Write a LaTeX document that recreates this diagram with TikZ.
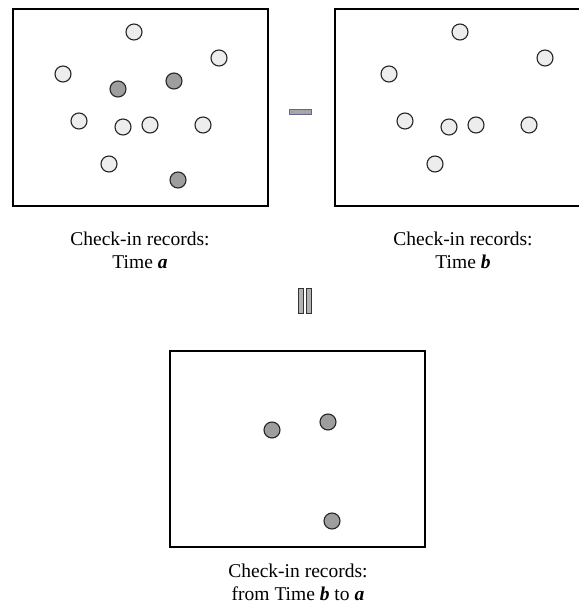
\documentclass[tikz,border=0pt]{standalone}
\usepackage{fontspec}
\setmainfont{Liberation Serif}
\begin{document}
\begin{tikzpicture}[x=1pt,y=-1pt,
  frame/.style={draw=black,line width=1.1pt,fill=white},
  rec/.style={circle,draw=black!85,line width=1.1pt,fill=black!7,minimum size=16pt,inner sep=0pt},
  hit/.style={rec,fill=black!38},
  caption/.style={align=center,font=\fontsize{19.5}{23}\selectfont},
  minus/.style={draw=blue!30!black!60,fill=black!35,line width=1pt},
  equalbar/.style={draw=black!80,fill=black!30,line width=1pt}]
\useasboundingbox (0,0) rectangle (578,604);
% panel frames
\draw[frame] (13,9) rectangle (268,206);
\draw[frame] (335,9) rectangle (592,206);
\draw[frame] (170,351) rectangle (425,547);
% time a
\node[rec] (a1) at (134,32) {};
\node[rec] (a2) at (219,58) {};
\node[rec] (a3) at (63,74) {};
\node[hit] (a4) at (118,89) {};
\node[hit] (a5) at (174,81) {};
\node[rec] (a6) at (79,121) {};
\node[rec] (a7) at (123,127) {};
\node[rec] (a8) at (150,125) {};
\node[rec] (a9) at (203,125) {};
\node[rec] (a10) at (109,164) {};
\node[hit] (a11) at (178,180) {};
% time b
\node[rec] (b1) at (460,32) {};
\node[rec] (b2) at (545,58) {};
\node[rec] (b3) at (389,74) {};
\node[rec] (b4) at (405,121) {};
\node[rec] (b5) at (449,127) {};
\node[rec] (b6) at (476,125) {};
\node[rec] (b7) at (529,125) {};
\node[rec] (b8) at (435,164) {};
% difference
\node[hit] (d1) at (272,430) {};
\node[hit] (d2) at (328,422) {};
\node[hit] (d3) at (332,521) {};
% operators
\draw[minus] (289,110) rectangle (311,115);
\draw[equalbar] (298,288) rectangle (303,313);
\draw[equalbar] (306,288) rectangle (311,313);
% captions
\node[caption] (ca) at (140,250) {Check-in records:\\Time \textbf{\textit{a}}};
\node[caption] (cb) at (463,250) {Check-in records:\\Time \textbf{\textit{b}}};
\node[caption] (cd) at (298,582) {Check-in records:\\from Time \textbf{\textit{b}} to \textbf{\textit{a}}};
\end{tikzpicture}
\end{document}
